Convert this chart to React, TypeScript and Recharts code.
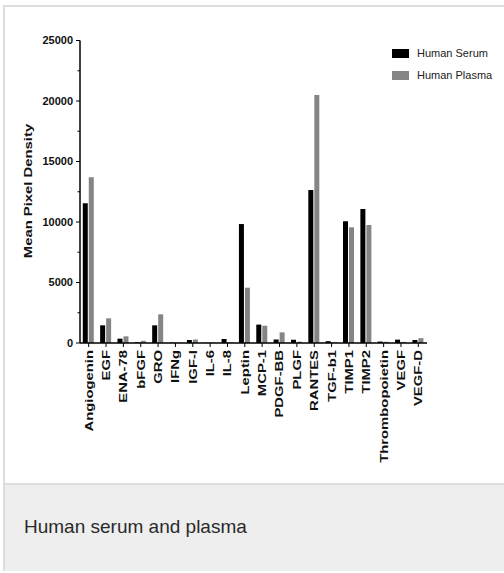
import React from 'react';
import { BarChart, Bar, XAxis, YAxis } from 'recharts';

const categories = [
  'Angiogenin', 'EGF', 'ENA-78', 'bFGF', 'GRO', 'IFNg', 'IGF-I', 'IL-6', 'IL-8', 'Leptin',
  'MCP-1', 'PDGF-BB', 'PLGF', 'RANTES', 'TGF-b1', 'TIMP1', 'TIMP2', 'Thrombopoietin', 'VEGF', 'VEGF-D',
];
const humanSerum = [
  11550, 1460, 360, 60, 1460, 30, 250, 20, 330, 9830,
  1520, 290, 270, 12640, 150, 10060, 11070, 120, 280, 250,
];
const humanPlasma = [
  13700, 2040, 550, 180, 2370, 40, 290, 40, 60, 4570,
  1430, 880, 110, 20500, 40, 9560, 9750, 100, 90, 400,
];
const yTicks = [0, 2500, 5000, 7500, 10000, 12500, 15000, 17500, 20000, 22500, 25000];
const majorStep = 5000;

const seriesNames = { serum: 'Human Serum', plasma: 'Human Plasma' };
const serumColor = '#000000';
const plasmaColor = '#858585';

const data = categories.map((name, i) => ({ name, serum: humanSerum[i], plasma: humanPlasma[i] }));

const FONT = '"Liberation Sans", Arial, Helvetica, sans-serif';
const STRETCH = 1.35; // rotated labels in the picture are stretched along their length

const XTick = (props: any) => {
  const { x, y, payload } = props;
  return (
    <g transform={`translate(${x},${y})`}>
      <text
        transform={`rotate(-90) scale(${STRETCH},1)`}
        textAnchor="end"
        dy="0.36em"
        fontFamily={FONT}
        fontWeight="bold"
        fontSize={11}
        fill="#111"
      >
        {payload.value}
      </text>
    </g>
  );
};

const YTick = (props: any) => {
  const { x, y, payload } = props;
  const axisX = x + 7; // tickSize + tickMargin
  const isMajor = payload.value % majorStep === 0;
  return (
    <g>
      <line x1={axisX - (isMajor ? 4 : 2.5)} x2={axisX} y1={y} y2={y} stroke="#000" strokeWidth={1} />
      {isMajor && (
        <text x={x} y={y} dy="0.36em" textAnchor="end" fontFamily={FONT} fontWeight="bold" fontSize={11} fill="#111">
          {payload.value}
        </text>
      )}
    </g>
  );
};

const LegendBox = () => (
  <div style={{ position: 'absolute', left: 392, top: 42, fontFamily: FONT, fontSize: 11, color: '#222' }}>
    {[
      { label: seriesNames.serum, color: serumColor },
      { label: seriesNames.plasma, color: plasmaColor },
    ].map((item) => (
      <div key={item.label} style={{ display: 'flex', alignItems: 'center', height: 22, whiteSpace: 'nowrap' }}>
        <span style={{ display: 'inline-block', width: 17, height: 9, background: item.color, marginRight: 8 }} />
        <span>{item.label}</span>
      </div>
    ))}
  </div>
);

const App: React.FC = () => {
  return (
    <div style={{ position: 'absolute', left: 0, top: 0, width: 504, height: 573, background: '#fff', overflow: 'hidden' }}>
      {/* card */}
      <div
        style={{
          position: 'absolute',
          left: 3,
          top: 5,
          width: 520,
          height: 566,
          borderTop: '2px solid #dddddd',
          borderLeft: '2px solid #dddddd',
          background: '#fff',
          boxSizing: 'border-box',
        }}
      >
        <div
          style={{
            position: 'absolute',
            left: 0,
            right: 0,
            top: 476,
            bottom: 0,
            borderTop: '2px solid #dddddd',
            background: '#edeeed',
          }}
        >
          <div
            style={{
              position: 'absolute',
              left: 19,
              top: 31,
              fontFamily: FONT,
              fontSize: 19,
              color: '#2a2a2a',
              whiteSpace: 'nowrap',
            }}
          >
            Human serum and plasma
          </div>
        </div>
      </div>

      <div style={{ position: 'absolute', left: 0, top: 0 }}>
        <BarChart
          width={504}
          height={480}
          data={data}
          margin={{ top: 40.5, right: 77, bottom: 0, left: 0 }}
          barCategoryGap="16%"
          barGap={1}
        >
          <XAxis
            dataKey="name"
            interval={0}
            height={137}
            tick={<XTick />}
            tickSize={4}
            tickMargin={3}
            axisLine={{ stroke: '#000', strokeWidth: 1.5 }}
            tickLine={{ stroke: '#000' }}
          />
          <YAxis
            width={80}
            domain={[0, 25000]}
            ticks={yTicks}
            interval={0}
            tick={<YTick />}
            tickSize={4}
            tickMargin={3}
            tickLine={false}
            axisLine={{ stroke: '#000', strokeWidth: 1.5 }}
            label={{
              content: () => (
                <text
                  transform={`translate(32,191) rotate(-90) scale(${STRETCH},1)`}
                  textAnchor="middle"
                  fontFamily={FONT}
                  fontWeight="bold"
                  fontSize={11}
                  fill="#111"
                >
                  Mean Pixel Density
                </text>
              ),
            }}
          />
          <Bar dataKey="serum" name={seriesNames.serum} fill={serumColor} isAnimationActive={false} />
          <Bar dataKey="plasma" name={seriesNames.plasma} fill={plasmaColor} isAnimationActive={false} />
        </BarChart>
      </div>
      <LegendBox />
    </div>
  );
};

export default App;
